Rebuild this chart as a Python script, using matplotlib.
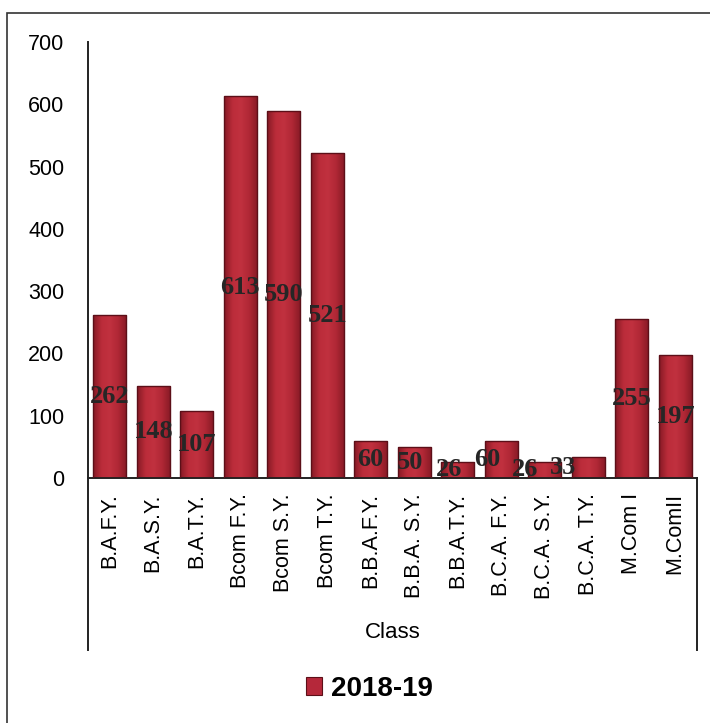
"""
Matrícula por classe (2018-19) - gráfico de barras com gradiente
"""

import numpy as np
import matplotlib
matplotlib.use("Agg")
import matplotlib.pyplot as plt
from matplotlib.colors import LinearSegmentedColormap
from matplotlib.patches import Rectangle
from matplotlib.lines import Line2D

# ─────────────────────────────────────────────
# Dados
# ─────────────────────────────────────────────
classes = ["B.A.F.Y.", "B.A.S.Y.", "B.A.T.Y.", "Bcom F.Y.", "Bcom S.Y.",
           "Bcom T.Y.", "B.B.A.F.Y.", "B.B.A. S.Y.", "B.B.A.T.Y.",
           "B.C.A. F.Y.", "B.C.A. S.Y.", "B.C.A. T.Y.", "M.Com I", "M.ComII"]
students = [262, 148, 107, 613, 590, 521, 60, 50, 26, 60, 26, 33, 255, 197]
series_name = "2018-19"
y_ticks = [0, 100, 200, 300, 400, 500, 600, 700]

# deslocamento horizontal dos rótulos (em pontos), como no original
label_nudge = [0, 0, 0, 0, 0, 0, 0, -3, -6, -10, -14, -18, 0, 0]

# ─────────────────────────────────────────────
# Estilo
# ─────────────────────────────────────────────
plt.rcParams["font.family"] = ["Liberation Sans", "DejaVu Sans"]
edge_dark = "#5c0f18"
grad = LinearSegmentedColormap.from_list(
    "barra", ["#861a25", "#bb2c3a", "#c1313f", "#b02735", "#861a25"])

fig = plt.figure(figsize=(7.10, 7.23), dpi=100)
ax = fig.add_axes([88 / 710, 1 - 478 / 723, 609 / 710, 436 / 723])

x = np.arange(len(classes))
bars = ax.bar(x, students, width=0.77, color="none",
              edgecolor=edge_dark, linewidth=1.0, zorder=3)

# gradiente horizontal em cada barra
gradient = np.linspace(0, 1, 64).reshape(1, -1)
for b in bars:
    x0, y0 = b.get_x(), b.get_y()
    w, h = b.get_width(), b.get_height()
    im = ax.imshow(gradient, cmap=grad, aspect="auto", zorder=2,
                   extent=[x0, x0 + w, y0, y0 + h], interpolation="bicubic")
    im.set_clip_path(b)

# rótulos de dados no meio da barra
for xi, v, dx in zip(x, students, label_nudge):
    ax.annotate(str(v), (xi, v / 2), xytext=(dx, 0), textcoords="offset points",
                ha="center", va="center", fontsize=19, fontweight="bold",
                family="Liberation Serif", color="#262626", zorder=4)

ax.set_xlim(-0.5, len(classes) - 0.5)
ax.set_ylim(0, 700)
ax.set_yticks(y_ticks)
ax.set_xticks(x)
ax.set_xticklabels(classes, rotation=90, fontsize=15.5)
ax.tick_params(axis="y", length=0, pad=17, labelsize=15.5)
ax.tick_params(axis="x", length=0, pad=11)

for side in ["top", "right"]:
    ax.spines[side].set_visible(False)
for side in ["left", "bottom"]:
    ax.spines[side].set_linewidth(1.4)
    ax.spines[side].set_color("#222222")

# linhas do eixo de categorias que descem até o título "Class"
drop = -(650 - 478) / 436
for xa in (0, 1):
    ax.add_line(Line2D([xa, xa], [0, drop], transform=ax.transAxes,
                       color="#222222", lw=1.4, clip_on=False))

ax.text(0.5, -(632 - 478) / 436, "Class", transform=ax.transAxes,
        ha="center", va="center", fontsize=16)

# legenda
handle = Rectangle((0, 0), 1, 1, facecolor="#b5283a", edgecolor=edge_dark, lw=0.8)
fig.legend([handle], [series_name], loc="center", bbox_to_anchor=(0.52, 1 - 689 / 723),
           frameon=False, prop={"weight": "bold", "size": 20},
           handlelength=0.6, handleheight=0.6, handletextpad=0.3)

# moldura externa
fig.add_artist(Rectangle((7 / 710, -0.05), 1.2, 1 - 13 / 723 + 0.05,
                         transform=fig.transFigure, fill=False,
                         edgecolor="#333333", lw=1.2))

fig.savefig("out.png", dpi=100, facecolor="white")
plt.close(fig)
